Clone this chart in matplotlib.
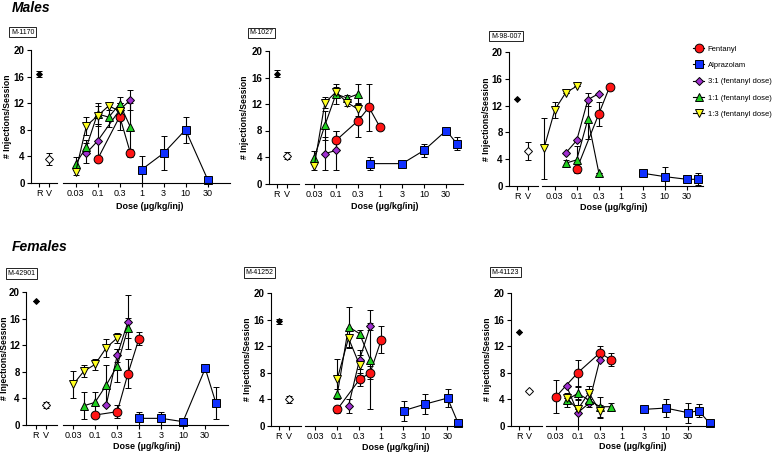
import numpy as np
import matplotlib
matplotlib.use('Agg')
import matplotlib.pyplot as plt
from matplotlib.lines import Line2D

plt.rcParams['font.family'] = ['Liberation Sans', 'DejaVu Sans']

W, H = 774, 455

# (dose, mean, sem) per series; rv = (R mean, R sem, V mean, V sem)
m1170_rv = [16.4, 0.5, 3.65, 0.9]
m1170_fen = [(0.1, 3.55, 0.4), (0.32, 10.0, 2.0), (0.56, 4.5, 0.6)]
m1170_alp = [(1.0, 2.0, 2.0), (3.2, 4.5, 2.5), (10, 8.0, 2.0), (32, 0.5, 0)]
m1170_31 = [(0.056, 4.5, 1.5), (0.1, 6.3, 2.5), (0.32, 11.0, 1.0), (0.56, 12.5, 1.5)]
m1170_11 = [(0.032, 2.9, 1.0), (0.056, 5.4, 1.0), (0.1, 10.4, 1.6), (0.18, 9.9, 1.5),
            (0.32, 11.9, 1.0), (0.56, 8.4, 3.6)]
m1170_13 = [(0.032, 1.7, 0.5), (0.056, 8.6, 1.4), (0.1, 10.1, 1.5), (0.18, 11.6, 0.6),
            (0.32, 10.8, 1.2)]

m1027_rv = [16.6, 0.5, 4.2, 0.5]
m1027_fen = [(0.1, 6.5, 1.5), (0.32, 9.5, 2.5), (0.56, 11.5, 3.5), (1.0, 8.5, 0.4)]
m1027_alp = [(0.6, 3.0, 1.0), (3.2, 3.0, 0), (10, 5.0, 1.0), (32, 8.0, 0), (56, 6.0, 1.0)]
m1027_31 = [(0.056, 4.5, 2.5), (0.1, 5.0, 3.0)]
m1027_11 = [(0.032, 3.9, 1.0), (0.056, 8.8, 2.2), (0.1, 13.5, 1.5), (0.18, 12.9, 0.5),
            (0.32, 13.5, 1.5)]
m1027_13 = [(0.032, 2.6, 0.6), (0.056, 12.2, 0.8), (0.1, 13.8, 0.8), (0.18, 12.2, 0.5),
            (0.32, 11.2, 1.0)]

m98007_rv = [13.0, 0, 5.25, 1.3]
m98007_fen = [(0.1, 2.5, 0.4), (0.32, 10.8, 1.8), (0.56, 14.8, 0)]
m98007_alp = [(3.2, 1.9, 0), (10, 1.4, 1.4), (32, 1.0, 0), (56, 1.0, 0.9)]
m98007_31 = [(0.056, 4.9, 0), (0.1, 6.8, 0), (0.18, 12.9, 1.0), (0.32, 13.8, 0)]
m98007_11 = [(0.056, 3.4, 0.5), (0.1, 3.9, 2.0), (0.18, 10.0, 3.0), (0.32, 1.9, 0)]
m98007_13 = [(0.018, 5.6, 4.5), (0.032, 11.4, 1.2), (0.056, 13.9, 0), (0.1, 14.9, 0)]

m42901_rv = [18.7, 0, 3.0, 0.5]
m42901_fen = [(0.1, 1.5, 0.5), (0.32, 2.0, 1.0), (0.56, 7.7, 2.2), (1.0, 13.0, 1.0)]
m42901_alp = [(1.0, 1.0, 1.0), (3.2, 1.0, 1.0), (10, 0.5, 0), (32, 8.5, 0.5), (56, 3.3, 2.4)]
m42901_31 = [(0.18, 3.0, 0), (0.32, 10.5, 1.0), (0.56, 15.5, 4.0)]
m42901_11 = [(0.056, 2.9, 2.0), (0.1, 3.4, 1.5), (0.18, 6.0, 3.0), (0.32, 8.9, 2.5),
             (0.56, 14.6, 1.5)]
m42901_13 = [(0.032, 6.1, 2.0), (0.056, 8.1, 0.9), (0.1, 9.1, 0.9), (0.18, 11.6, 1.3),
             (0.32, 13.1, 0.8)]

m41252_rv = [15.75, 0.4, 4.0, 0.5]
m41252_fen = [(0.1, 2.5, 0.5), (0.32, 7.0, 1.0), (0.56, 8.0, 1.0), (1.0, 13.0, 2.0)]
m41252_alp = [(3.2, 2.3, 1.5), (10, 3.3, 1.5), (32, 4.2, 1.3), (56, 0.4, 0)]
m41252_31 = [(0.18, 3.0, 1.0), (0.32, 10.0, 1.5), (0.56, 15.0, 0.5)]
m41252_11 = [(0.1, 4.8, 0.7), (0.18, 14.9, 3.0), (0.32, 13.9, 0.6), (0.56, 10.0, 7.5)]
m41252_13 = [(0.1, 7.1, 3.0), (0.18, 13.2, 1.5), (0.32, 9.2, 1.5)]

m41123_rv = [14.15, 0, 5.3, 0]
m41123_fen = [(0.032, 4.4, 2.5), (0.1, 8.0, 2.0), (0.32, 11.0, 1.0), (0.56, 10.0, 1.0)]
m41123_alp = [(3.2, 2.5, 0.2), (10, 2.7, 1.3), (32, 2.0, 1.5), (56, 2.3, 1.0), (100, 0.4, 0)]
m41123_31 = [(0.056, 6.0, 0), (0.1, 2.0, 2.0), (0.18, 3.4, 0), (0.32, 10.0, 0)]
m41123_11 = [(0.056, 3.9, 1.0), (0.1, 4.9, 1.0), (0.18, 3.9, 1.0), (0.32, 2.9, 1.5),
             (0.56, 2.9, 0.5)]
m41123_13 = [(0.056, 4.2, 0), (0.1, 2.5, 0), (0.18, 5.0, 1.0), (0.32, 2.2, 1.0)]

dose_ticks = 10 ** np.array([-1.5, -1, -0.5, 0, 0.5, 1, 1.5])
dose_ticklabels = ['0.03', '0.1', '0.3', '1', '3', '10', '30']
y_ticks = [0, 4, 8, 12, 16, 20]

styles = [
    ('Fentanyl', 'o', '#ff1414', 6.3),
    ('Alprazolam', 's', '#1030ff', 6.3),
    ('3:1 (fentanyl dose)', 'D', '#a030d0', 4.3),
    ('1:1 (fentanyl dose)', '^', '#20d020', 6.3),
    ('1:3 (fentanyl dose)', 'v', '#ffff20', 6.3),
]

# pixel geometry: spine, rv_end, dose_left, dose_right, y0, y20, x at 0.1, R px, V px,
#                 ylabel x, xlabel x, xlabel top y, box x, box y
panels = [
    ('M-1170', m1170_rv, [m1170_fen, m1170_alp, m1170_31, m1170_11, m1170_13],
     (31, 57, 63, 230, 183, 50, 97.5, 39.3, 49.3, 12, 150, 202, 22.7, 32)),
    ('M-1027', m1027_rv, [m1027_fen, m1027_alp, m1027_31, m1027_11, m1027_13],
     (268.5, 299, 305, 463, 183.5, 51, 336, 276.7, 287.3, 249, 385, 202, 261.5, 33)),
    ('M-98-007', m98007_rv, [m98007_fen, m98007_alp, m98007_31, m98007_11, m98007_13],
     (509, 538, 542, 703, 186, 52, 576.7, 517.3, 528.3, 491, 614, 203, 506, 36)),
    ('M-42901', m42901_rv, [m42901_fen, m42901_alp, m42901_31, m42901_11, m42901_13],
     (26, 57, 63, 228, 425, 292, 95, 35.7, 45.7, 9, 147, 442, 21.7, 273.5)),
    ('M-41252', m41252_rv, [m41252_fen, m41252_alp, m41252_31, m41252_11, m41252_13],
     (271, 301, 305, 462, 426, 293, 337.3, 279, 289, 252, 396, 443, 259.5, 272.5)),
    ('M-41123', m41123_rv, [m41123_fen, m41123_alp, m41123_31, m41123_11, m41123_13],
     (511, 542, 546, 713, 426, 293, 577.7, 519.3, 529.3, 492, 633, 442, 505.5, 272)),
]

fig = plt.figure(figsize=(W / 100, H / 100), dpi=100)

eb_kw = dict(color='k', lw=0.8, ecolor='k', elinewidth=0.8, capsize=2.2, capthick=0.8,
             mec='k', mew=0.7, clip_on=False)


def draw_panel(name, rv, series, geo):
    (spine, rv_end, d_left, d_right, y0, y20, x01, r_px, v_px,
     ylab_x, xlab_x, xlab_y, box_x, box_y) = geo
    bottom = 1 - y0 / H
    height = (y0 - y20) / H

    ax_rv = fig.add_axes([spine / W, bottom, (rv_end - spine) / W, height])
    unit = v_px - r_px
    ax_rv.set_xlim((spine - r_px) / unit, (rv_end - r_px) / unit)
    ax_rv.set_ylim(0, 20)
    ax_rv.errorbar([0], [rv[0]], yerr=[rv[1]], fmt='D', mfc='k', ms=3.0, **eb_kw)
    ax_rv.errorbar([1], [rv[2]], yerr=[rv[3]], fmt='D', mfc='white', ms=4.2, **eb_kw)
    ax_rv.set_xticks([0, 1], ['R', 'V'], fontsize=6.5)
    ax_rv.set_yticks(y_ticks, [str(t) for t in y_ticks], fontsize=7, fontweight='bold')
    ax_rv.set_ylabel('# Injections/Session', fontsize=6.2, fontweight='bold')
    ax_rv.yaxis.set_label_coords((ylab_x - spine) / (rv_end - spine), 0.5)

    ax = fig.add_axes([d_left / W, bottom, (d_right - d_left) / W, height])
    ax.set_xscale('log')
    ax.set_xlim(10 ** (-1 + (d_left - x01) / 44), 10 ** (-1 + (d_right - x01) / 44))
    ax.set_ylim(0, 20)
    for data, (label, mk, col, ms) in zip(series, styles):
        d, m, e = zip(*data)
        ax.errorbar(d, m, yerr=e, fmt='-', marker=mk, mfc=col, ms=ms, **eb_kw)
    ax.set_xticks(dose_ticks, dose_ticklabels, fontsize=6.5)
    ax.minorticks_off()
    ax.set_yticks([])
    ax.set_xlabel('Dose (\u00b5g/kg/inj)', fontsize=6.5, fontweight='bold')
    ax.xaxis.set_label_coords((xlab_x - d_left) / (d_right - d_left),
                              -(xlab_y - y0) / (y0 - y20))

    for a in (ax_rv, ax):
        for s in ('top', 'right'):
            a.spines[s].set_visible(False)
        for s in ('left', 'bottom'):
            a.spines[s].set_linewidth(0.8)
        a.tick_params(length=3, width=0.8, pad=1.5)
        a.patch.set_visible(False)
    ax.spines['left'].set_visible(False)

    fig.text(box_x / W, 1 - box_y / H, name, ha='center', va='center', fontsize=5,
             bbox=dict(boxstyle='square,pad=0.25', fc='white', ec='k', lw=0.6))


for name, rv, series, geo in panels:
    draw_panel(name, rv, series, geo)

fig.text(12 / W, 1 - 0.5 / H, 'Males', fontsize=10, fontweight='bold', fontstyle='italic',
         va='top')
fig.text(12 / W, 1 - 240 / H, 'Females', fontsize=10, fontweight='bold', fontstyle='italic',
         va='top')

handles = [Line2D([], [], color='k', lw=0.8, marker=mk, mfc=col, mec='k', mew=0.7, ms=ms,
                  label=label) for label, mk, col, ms in styles]
fig.legend(handles=handles, loc='upper left', bbox_to_anchor=(688 / W, 1 - 40 / H),
           frameon=False, fontsize=5.5, handlelength=1.4, handletextpad=0.5,
           labelspacing=1.17, borderpad=0.2)

fig.savefig('out.png', dpi=100)
